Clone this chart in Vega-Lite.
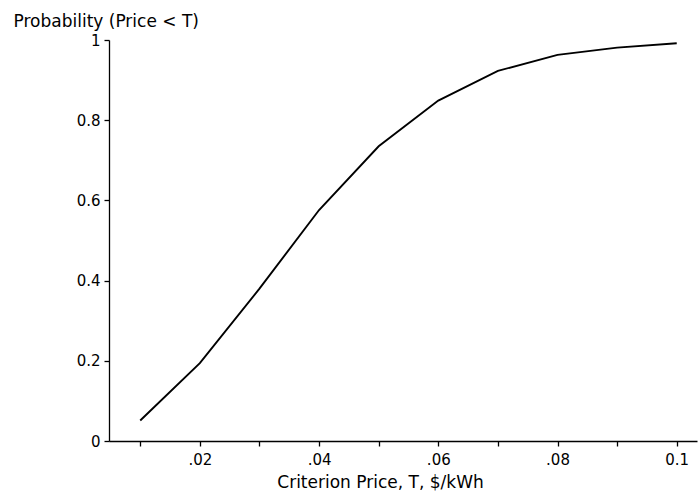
{
  "$schema": "https://vega.github.io/schema/vega-lite/v6.json",
  "description": "Cumulative probability that the price is below a criterion price T.",
  "width": 588,
  "height": 401,
  "autosize": "none",
  "padding": {"left": 109, "top": 40, "right": 2, "bottom": 53},
  "data": {
    "values": [
      {"price": 0.01, "prob": 0.051},
      {"price": 0.02, "prob": 0.194},
      {"price": 0.03, "prob": 0.38},
      {"price": 0.04, "prob": 0.576},
      {"price": 0.05, "prob": 0.735},
      {"price": 0.06, "prob": 0.849},
      {"price": 0.07, "prob": 0.923},
      {"price": 0.08, "prob": 0.963},
      {"price": 0.09, "prob": 0.981},
      {"price": 0.1, "prob": 0.992}
    ]
  },
  "mark": {"type": "line", "color": "black", "strokeWidth": 1.9},
  "encoding": {
    "x": {
      "field": "price",
      "type": "quantitative",
      "scale": {"domain": [0.00476, 0.1034], "nice": false, "zero": false},
      "axis": {
        "title": "Criterion Price, T, $/kWh",
        "values": [0.01, 0.02, 0.03, 0.04, 0.05, 0.06, 0.07, 0.08, 0.09, 0.1],
        "labelExpr": "round(datum.value * 100) % 2 == 1 ? '' : (round(datum.value * 100) == 10 ? '0.1' : replace(format(datum.value, '.2f'), '0.', '.'))",
        "labelPadding": 6,
        "titleX": 271,
        "titleY": 46,
        "titleBaseline": "alphabetic"
      }
    },
    "y": {
      "field": "prob",
      "type": "quantitative",
      "scale": {"domain": [0, 1], "nice": false},
      "axis": {
        "title": "Probability (Price < T)",
        "values": [0, 0.2, 0.4, 0.6, 0.8, 1],
        "format": "~g",
        "titleAngle": 0,
        "titleAlign": "left",
        "titleBaseline": "alphabetic",
        "titleX": -96,
        "titleY": -14
      }
    }
  },
  "config": {
    "view": {"stroke": null},
    "axis": {
      "grid": false,
      "domainColor": "black",
      "domainWidth": 1.3,
      "tickColor": "black",
      "tickWidth": 1.3,
      "tickSize": 5,
      "labelPadding": 4,
      "labelFont": "DejaVu Sans",
      "labelFontSize": 15,
      "labelColor": "black",
      "titleFont": "DejaVu Sans",
      "titleFontSize": 17,
      "titleFontWeight": "normal",
      "titleColor": "black"
    }
  }
}
